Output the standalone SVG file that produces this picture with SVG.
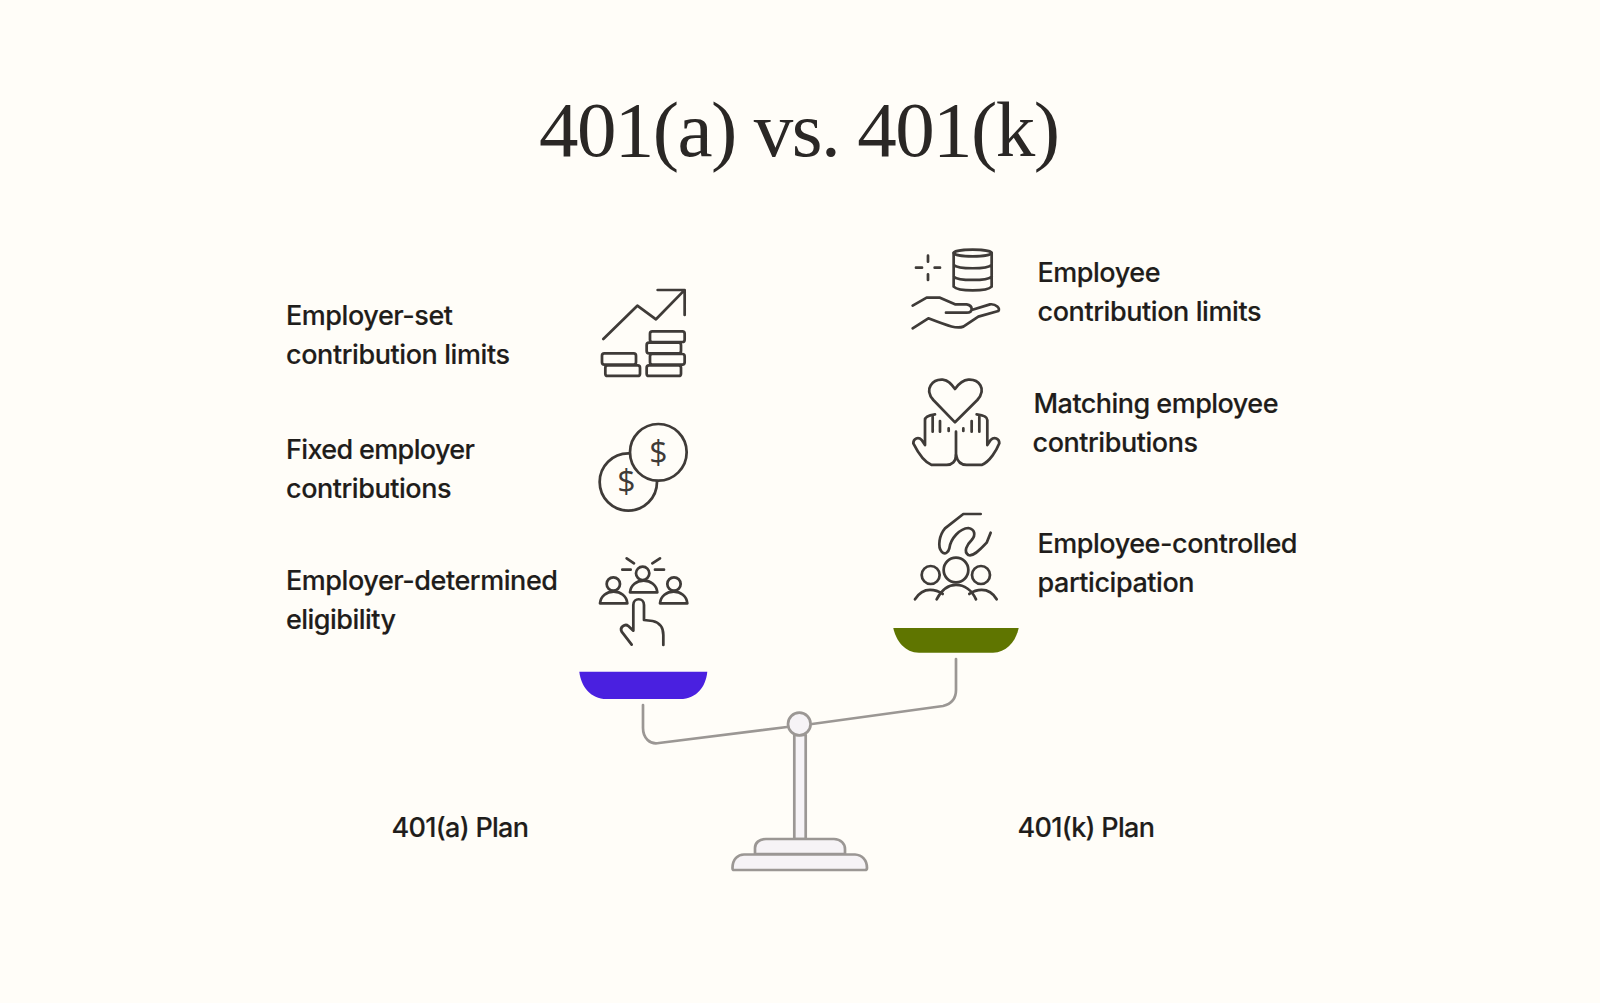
<svg xmlns="http://www.w3.org/2000/svg" width="1600" height="1003" viewBox="0 0 1600 1003">
<style>
.t{font-family:"Inter","Liberation Sans",sans-serif;font-size:27px;fill:#1f1d1b;font-weight:450;stroke:#1f1d1b;stroke-width:.15px}
.i{fill:none;stroke:#3f3b38;stroke-width:8.2;stroke-linecap:round;stroke-linejoin:round}
.d{font-family:"Open Sans","Liberation Sans",sans-serif;font-weight:400;fill:#3f3b38;text-anchor:middle}
.s{fill:#f6f3f6;stroke:#9b9794;stroke-width:2.7;stroke-linejoin:round}
.b{fill:none;stroke:#9b9794;stroke-width:2.7;stroke-linecap:round}
</style>
<rect width="1600" height="1003" fill="#fffdf8"/>
<text id="title" x="539" y="156" font-family="'Liberation Serif',serif" font-size="79" fill="#2a2725" textLength="521" lengthAdjust="spacing">401(a) vs. 401(k)</text>

<g id="node-employer-set">
<text class="t" x="286" y="325" textLength="167">Employer-set</text>
<text class="t" x="286" y="364" textLength="224">contribution limits</text>
<g class="i" transform="translate(580 270) scale(.3333)">
<path d="M70 207L172 107L228 148L312 62M233 60H314V135"/>
<rect x="210" y="184" width="104" height="32" rx="7"/><rect x="200" y="218" width="103" height="32" rx="7"/><rect x="210" y="252" width="104" height="32" rx="7"/><rect x="200" y="286" width="103" height="32" rx="7"/>
<rect x="66" y="250" width="102" height="34" rx="7"/><rect x="76" y="286" width="104" height="32" rx="7"/>
</g>
</g>

<g id="node-fixed-employer">
<text class="t" x="286" y="459" textLength="189">Fixed employer</text>
<text class="t" x="286" y="498" textLength="165.500">contributions</text>
<g transform="translate(580 410) scale(.3333)">
<circle class="i" cx="145" cy="216" r="86"/>
<circle class="i" cx="235" cy="127" r="85" style="fill:#fffdf8"/>
<text class="d" x="235" y="161" font-size="96">$</text>
<text class="d" x="139" y="250" font-size="96">$</text>
</g>
</g>

<g id="node-employer-determined">
<text class="t" x="286" y="590" textLength="272">Employer-determined</text>
<text class="t" x="286" y="629" textLength="110">eligibility</text>
<g class="i" transform="translate(580 540) scale(.3333)">
<circle cx="188" cy="100" r="20"/><path d="M150 157C152 135 170 122 191 122C212 122 230 135 232 157Z"/>
<circle cx="100" cy="132" r="20"/><path d="M60 190C62 168 80 155 101 155C122 155 140 168 142 190Z"/>
<circle cx="282" cy="132" r="20"/><path d="M240 190C242 168 260 155 281 155C302 155 320 168 322 190Z"/>
<path d="M127 89H152M225 89H252M140 55L162 70M240 55L217 70"/>
<path d="M155 314L125 275C118 262 135 250 145 258L160 272V195C160 172 192 172 192 195V240L218 243C240 248 250 265 250 285V315"/>
</g>
</g>

<g id="node-employee-limits">
<text class="t" x="1037.500" y="282" textLength="123">Employee</text>
<text class="t" x="1037.500" y="320.500" textLength="224">contribution limits</text>
<g class="i" transform="translate(900 235) scale(.3333)">
<ellipse cx="218" cy="54" rx="57" ry="10"/>
<path d="M161 54V155C175 170 261 170 275 155V54M161 90C175 103 261 103 275 90M161 125C175 138 261 138 275 125"/>
<path d="M84 62V80M84 118V135M48 98H66M104 98H120"/>
<path d="M38 212L80 188H120L165 208H200C220 212 220 233 200 233H138M215 225L270 208C288 206 302 220 295 228L235 245L190 275C170 282 150 275 85 250L38 280"/>
</g>
</g>

<g id="node-matching">
<text class="t" x="1033.500" y="413" textLength="245">Matching employee</text>
<text class="t" x="1032.500" y="452" textLength="165.500">contributions</text>
<g class="i" transform="translate(900 365) scale(.3333)">
<path d="M165 172L100 105C70 70 100 42 128 44C145 45 155 58 165 72C175 58 188 45 205 44C235 42 262 70 232 105Z"/>
<path d="M168 200V270C168 290 155 300 140 300H95C70 290 50 255 40 235C40 220 55 215 65 225L75 240V165C75 155 90 150 105 148"/>
<path d="M168 270C172 290 185 300 200 300H245C270 290 290 255 298 235C298 220 283 215 272 225L262 240V165C262 155 248 150 230 148"/>
<path d="M98 155V200M120 168V200M146 190V198M190 190V198M215 168V200M238 155V200"/>
</g>
</g>

<g id="node-employee-controlled">
<text class="t" x="1037.500" y="552.500" textLength="260">Employee-controlled</text>
<text class="t" x="1037.500" y="591.500" textLength="157">participation</text>
<g class="i" transform="translate(900 500) scale(.3333)">
<path d="M242 42H190L135 85C118 105 112 140 125 155C135 165 145 158 148 145C152 115 180 85 205 84C225 88 228 105 215 120C200 135 190 155 205 165C218 170 235 155 260 128L272 98"/>
<circle cx="168" cy="210" r="37"/><circle cx="92" cy="225" r="27"/><circle cx="243" cy="225" r="27"/>
<path d="M110 298C125 270 145 255 168 255C192 255 215 270 228 298M45 298C58 278 75 270 90 270C105 270 118 275 128 282M290 298C278 278 260 270 245 270C232 270 218 275 208 282"/>
</g>
</g>

<g id="label-401a"><text class="t" x="391.500" y="837" textLength="137.500">401(a) Plan</text></g>
<g id="label-401k"><text class="t" x="1017.500" y="837" textLength="137.500">401(k) Plan</text></g>

<g id="connectors">
<path class="b" d="M643 705V728C643 738 650 745 659 743L787 727M812 724L943 706C951 704 956 699 956 690V659"/>
</g>
<g id="scale">
<rect class="s" x="794.300" y="735" width="11.400" height="104"/>
<path class="s" d="M755 854V848C755 843 759 839 766 839H834C841 839 845 844 845 849V854Z"/>
<path class="s" d="M732.500 868C732.500 859 738 854.500 744 854.500H855C862 855 867 860 867 868C867 869.500 866 870 865 870H734C733 870 732.500 869.500 732.500 868Z"/>
<circle class="s" cx="799.300" cy="724" r="11.300"/>
</g>
<path id="pan-401a" fill="#4a20e0" d="M579.300 671.700H707.300C706 686 697 699 680 699H606.700C590 699 581 686 579.300 671.700Z"/>
<path id="pan-401k" fill="#5f7500" d="M893.300 628H1018.700C1016 641 1007 652.700 993 652.700H919C905 652.700 896 641 893.300 628Z"/>
</svg>
